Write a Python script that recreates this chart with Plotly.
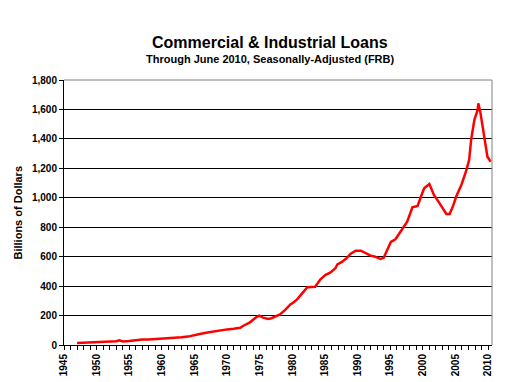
import plotly.graph_objects as go

years = [1947.0, 1948.0, 1949.0, 1950.0, 1951.0, 1952.0, 1953.0, 1953.5, 1954.0, 1955.0,
         1956.0, 1957.0, 1958.0, 1959.0, 1960.0, 1961.0, 1962.0, 1963.0, 1964.0, 1965.0,
         1966.0, 1967.0, 1968.0, 1969.0, 1970.0, 1971.0, 1972.0, 1972.5, 1973.5, 1974.5,
         1974.9, 1975.5, 1976.3, 1976.8, 1978.1, 1978.9, 1979.7, 1980.2, 1980.7, 1981.5,
         1982.3, 1983.5, 1984.3, 1985.1, 1985.8, 1986.6, 1986.9, 1987.6, 1988.3, 1988.9,
         1989.7, 1990.5, 1991.2, 1992.0, 1992.7, 1993.5, 1994.0, 1994.5, 1995.1, 1995.8,
         1996.6, 1997.6, 1998.4, 1999.2, 1999.7, 2000.2, 2001.0, 2001.7, 2002.5, 2003.0,
         2003.6, 2004.1, 2004.6, 2005.1, 2005.9, 2006.6, 2007.1, 2007.4, 2007.9, 2008.4,
         2008.5, 2008.8, 2009.2, 2009.6, 2009.9, 2010.4]
loans = [14, 16, 16, 17, 21, 23, 26, 32, 24, 27,
         33, 37, 38, 40, 44, 45, 47, 52, 57, 64,
         76, 85, 93, 102, 106, 110, 117, 131, 154, 190,
         199, 186, 177, 182, 208, 238, 276, 290, 308, 351,
         392, 396, 446, 476, 491, 521, 548, 564, 589, 618,
         641, 641, 627, 607, 600, 584, 592, 640, 700, 718,
         770, 838, 935, 944, 1007, 1064, 1094, 1019, 967, 929,
         890, 890, 940, 1007, 1087, 1177, 1257, 1393, 1529, 1597,
         1642, 1585, 1483, 1381, 1279, 1245]

x_ticks = list(range(1945, 2011, 5))
y_ticks = list(range(0, 1801, 200))

title = "Commercial & Industrial Loans"
subtitle = "Through June 2010, Seasonally-Adjusted (FRB)"
y_title = "Billions of Dollars"

fig = go.Figure()
fig.add_trace(go.Scatter(x=years, y=loans, mode="lines",
                         line=dict(color="#ff0000", width=2.5, shape="linear"),
                         showlegend=False))

font_family = "Liberation Sans, Arial, sans-serif"

# page body has an 8px default margin, so the figure is drawn 8px smaller
fig.update_layout(
    template="none",
    width=499, height=374,
    autosize=False,
    margin=dict(l=56, r=15, t=72, b=37, pad=0, autoexpand=False),
    paper_bgcolor="white", plot_bgcolor="white",
    font=dict(family=font_family, color="black"),
    xaxis=dict(range=[1945, 2010.6], tickvals=x_ticks, ticktext=[str(v) for v in x_ticks],
               tickangle=-90, ticks="outside", ticklen=4, tickcolor="black",
               tickfont=dict(size=10, weight="bold"), automargin=False,
               minor=dict(dtick=1, tick0=1945, ticks="outside", ticklen=4, tickcolor="black", showgrid=False),
               showgrid=False, zeroline=False, showline=True, linecolor="black", linewidth=1,
               mirror=False),
    yaxis=dict(range=[0, 1800], tickvals=y_ticks, tickformat=",",
               ticks="outside", ticklen=4, tickcolor="black", automargin=False,
               tickfont=dict(size=10, weight="bold"),
               showgrid=True, gridcolor="black", gridwidth=1, zeroline=False,
               showline=True, linecolor="black", linewidth=1),
    shapes=[
        dict(type="line", xref="paper", yref="paper", x0=0, x1=1, y0=1, y1=1,
             line=dict(color="#808080", width=1)),
        dict(type="line", xref="paper", yref="paper", x0=1, x1=1, y0=0, y1=1,
             line=dict(color="#808080", width=1)),
    ],
    annotations=[
        dict(text=title, xref="paper", yref="paper", x=0.481, y=1.0 + (80 - 42) / 265,
             showarrow=False, xanchor="center", yanchor="middle",
             font=dict(size=16, weight="bold", family=font_family)),
        dict(text=subtitle, xref="paper", yref="paper", x=0.481, y=1.0 + (80 - 59) / 265,
             showarrow=False, xanchor="center", yanchor="middle",
             font=dict(size=11, weight="bold", family=font_family)),
        dict(text=y_title, xref="paper", yref="paper", x=(17 - 64) / 428, y=0.5,
             showarrow=False, xanchor="center", yanchor="middle", textangle=-90,
             font=dict(size=11, weight="bold", family=font_family)),
    ],
)

fig.write_html("out.html")
